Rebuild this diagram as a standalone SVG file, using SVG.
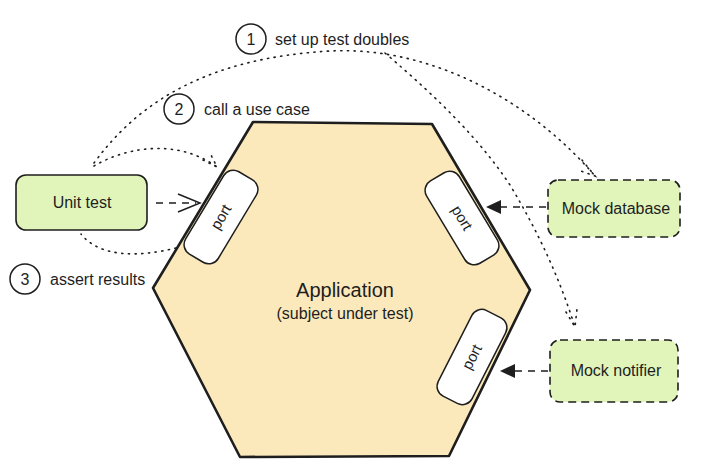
<svg xmlns="http://www.w3.org/2000/svg" width="705" height="470" viewBox="0 0 705 470">
<style>
.t{font-family:"Liberation Sans",Arial,sans-serif;fill:#1e1e1e}
.dot{fill:none;stroke:#1e1e1e;stroke-width:1.6;stroke-dasharray:1.2 5.5;stroke-linecap:round}
.dash{fill:none;stroke:#1e1e1e;stroke-width:1.5;stroke-dasharray:7 6}
.port{fill:#fff;stroke:#1e1e1e;stroke-width:1.5}
.num{fill:none;stroke:#1e1e1e;stroke-width:1.5}
</style>
<rect width="705" height="470" fill="#fff"/>
<g id="application">
<path d="M253,122 L432,124 L530,290 L449,456 L240,457 L153,288 Z" fill="#fbe9bc" stroke="#1e1e1e" stroke-width="2.6" stroke-linejoin="round"/>
<text class="t" x="345" y="297" font-size="20" text-anchor="middle">Application</text>
<text class="t" x="345" y="319" font-size="16" text-anchor="middle">(subject under test)</text>
</g>
<g id="port1" transform="translate(221,217) rotate(-59)">
<rect class="port" x="-48" y="-19" width="96" height="38" rx="11"/>
<text class="t" x="0" y="5" font-size="15" text-anchor="middle">port</text>
</g>
<g id="port2" transform="translate(462,218) rotate(59)">
<rect class="port" x="-48" y="-19" width="96" height="38" rx="11"/>
<text class="t" x="0" y="5" font-size="15" text-anchor="middle">port</text>
</g>
<g id="port3" transform="translate(472,357) rotate(-63)">
<rect class="port" x="-48" y="-19" width="96" height="38" rx="11"/>
<text class="t" x="0" y="5" font-size="15" text-anchor="middle">port</text>
</g>
<g id="unit-test">
<rect x="16" y="175" width="131" height="55" rx="10" fill="#e1f5bb" stroke="#1e1e1e" stroke-width="1.6"/>
<text class="t" x="82" y="208" font-size="16" text-anchor="middle">Unit test</text>
</g>
<g id="mock-database">
<rect x="548" y="180" width="132" height="57" rx="10" fill="#e1f5bb" stroke="#1e1e1e" stroke-width="1.6" stroke-dasharray="8 5"/>
<text class="t" x="616" y="214" font-size="16" text-anchor="middle">Mock database</text>
</g>
<g id="mock-notifier">
<rect x="550" y="340" width="128" height="62" rx="10" fill="#e1f5bb" stroke="#1e1e1e" stroke-width="1.6" stroke-dasharray="8 5"/>
<text class="t" x="616" y="376" font-size="16" text-anchor="middle">Mock notifier</text>
</g>
<g id="labels">
<circle class="num" cx="251" cy="39" r="15"/>
<text class="t" x="251" y="45" font-size="16" text-anchor="middle">1</text>
<text class="t" x="275" y="45" font-size="16">set up test doubles</text>
<circle class="num" cx="179" cy="109" r="15"/>
<text class="t" x="179" y="115" font-size="16" text-anchor="middle">2</text>
<text class="t" x="204" y="115" font-size="16">call a use case</text>
<circle class="num" cx="25" cy="279" r="15"/>
<text class="t" x="25" y="285" font-size="16" text-anchor="middle">3</text>
<text class="t" x="50" y="285" font-size="16">assert results</text>
</g>
<g id="connectors">
<path class="dash" d="M156,203 L196,203"/>
<path d="M178,194 L200,203 L178,212" fill="none" stroke="#1e1e1e" stroke-width="1.5"/>
<path class="dash" d="M546,207 L500,207"/>
<path d="M486,207 L501,200 L501,214 Z" fill="#1e1e1e"/>
<path class="dash" d="M548,371 L514,371"/>
<path d="M500,371 L515,364 L515,378 Z" fill="#1e1e1e"/>
<path class="dot" d="M94,163 C140,100 210,58 330,51 C430,46 530,100 595,176"/>
<path class="dot" d="M582,160 L595,176 L578,170"/>
<path class="dot" d="M385,53 C440,100 480,140 510,185 C540,235 560,280 575,327"/>
<path class="dot" d="M566,312 L575,327 L577,309"/>
<path class="dot" d="M94,166 C130,145 180,140 217,167"/>
<path class="dot" d="M203,160 L217,167 L210,153"/>
<path class="dot" d="M176,248 C140,257 100,258 81,234"/>
</g>
</svg>
